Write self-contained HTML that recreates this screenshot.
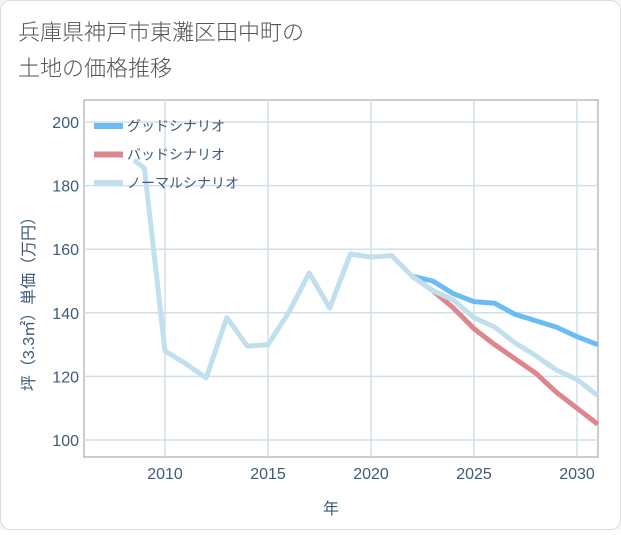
<!DOCTYPE html>
<html><head><meta charset="utf-8"><style>
body{margin:0;background:#fff;font-family:"Liberation Sans","Noto Sans CJK JP",sans-serif;}
#c{position:absolute;left:0;top:0;width:621px;height:530px;background:#f5f5f5;}
</style></head><body>
<div id="c">
<svg id="s" width="621" height="530">
<rect x="0.5" y="0.5" width="620" height="529" rx="10" fill="#fff" stroke="#ddd"/>
<text x="18" y="40" font-size="22" fill="#555" font-weight="300">兵庫県神戸市東灘区田中町の</text>
<text x="18" y="76" font-size="22" fill="#555" font-weight="300">土地の価格推移</text>
<rect x="84" y="100" width="514" height="357" fill="#fff" stroke="#999"/>
<g id="grid"></g><g id="lines"></g>
<text transform="translate(34,300) rotate(-90)" text-anchor="middle" font-size="16" fill="#3e5a78">坪（3.3㎡）単価（万円）</text>
<text x="331" y="514" text-anchor="middle" font-size="16" fill="#3e5a78">年</text>
<g id="legend"></g>
</svg></div>
<script>
const normalYears=[2008.5,2009,2010,2011,2012,2013,2014,2015,2016,2017,2018,2019,2020,2021,2022,2023,2024,2025,2026,2027,2028,2029,2030,2031];
const normalValues=[188,185.5,128,124,119.5,138.5,129.5,130,140,152.5,141.5,158.5,157.5,158,151.5,147,144,138.5,135.5,130.5,126.5,122,119,114];
const scenarioYears=[2022,2023,2024,2025,2026,2027,2028,2029,2030,2031];
const goodValues=[151.5,150,146,143.5,143,139.5,137.5,135.5,132.5,130];
const badValues=[151.5,147,141.5,135,130,125.5,121,115,110,105];
const xTicks=[2010,2015,2020,2025,2030];
const yTicks=[100,120,140,160,180,200];
const NS="http://www.w3.org/2000/svg";
const X=y=>165+(y-2010)*20.6;
const Y=v=>440-(v-100)*3.18;
function mk(t,a,p){const e=document.createElementNS(NS,t);for(const k in a)e.setAttribute(k,a[k]);p.appendChild(e);return e;}
const g=document.getElementById('grid');
xTicks.forEach(t=>{
const l=mk('line',{x1:X(t),x2:X(t),y1:100,y2:457,stroke:'#cfe0ea','stroke-width':1.5},g);


const tx=mk('text',{x:X(t),y:479,'text-anchor':'middle','font-size':16,fill:'#3e5a78'},g);tx.textContent=t;


});
yTicks.forEach(t=>{
const l=mk('line',{x1:84,x2:598,y1:Y(t),y2:Y(t),stroke:'#cfe0ea','stroke-width':1.5},g);


const tx=mk('text',{x:79,y:Y(t)+6,'text-anchor':'end','font-size':16,fill:'#3e5a78'},g);tx.textContent=t;


});
const L=document.getElementById('lines');
function line(xs,vs,c,name){const p=mk('polyline',{points:xs.map((x,i)=>X(x)+','+Y(vs[i])).join(' '),fill:'none',stroke:c,'stroke-width':5,'stroke-linejoin':'round'},L);

}
line(scenarioYears,goodValues,'#6bbcf2','good-scenario-line');
line(scenarioYears,badValues,'#de868e','bad-scenario-line');
line(normalYears,normalValues,'#bfe0ec','normal-scenario-line');
const lg=document.getElementById('legend');
[['グッドシナリオ','#6bbcf2'],['バッドシナリオ','#de868e'],['ノーマルシナリオ','#bfe0ec']].forEach((d,i)=>{
const y=126+i*28.5;
const r=mk('rect',{x:94,y:y-3,width:29,height:6,fill:d[1]},lg);


const t=mk('text',{x:127,y:y+5,'font-size':14,fill:'#3e5a78'},lg);t.textContent=d[0];


});
</script></body></html>
